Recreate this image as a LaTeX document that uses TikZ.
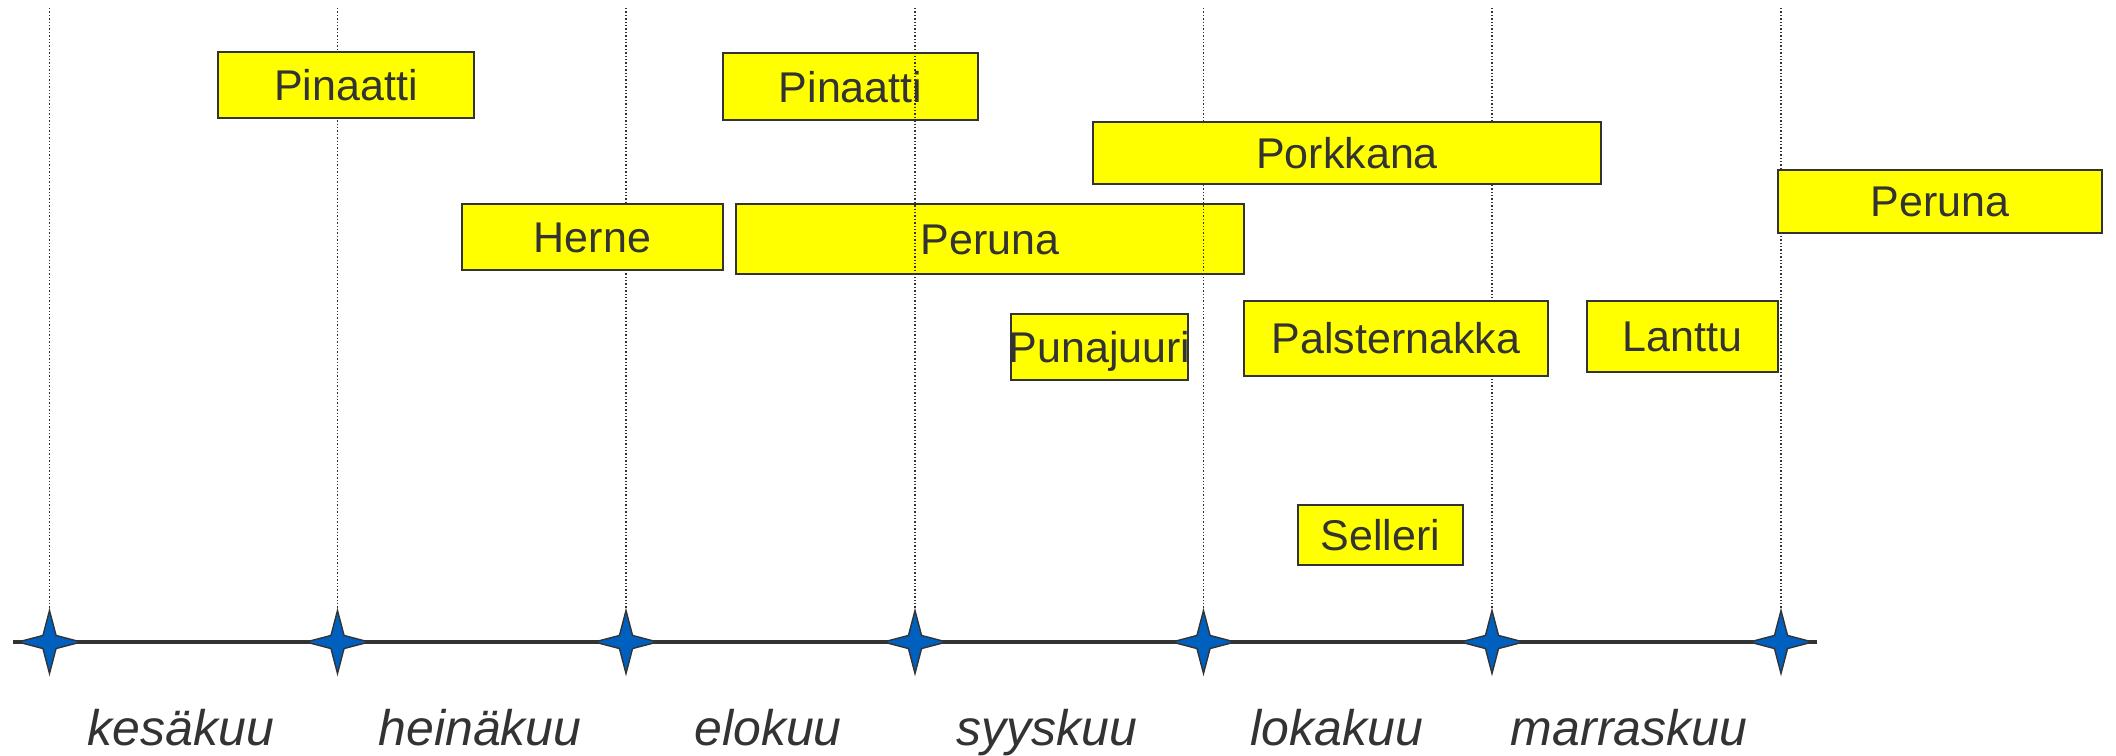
\documentclass[tikz,border=0pt]{standalone}
\usepackage{fontspec}
\setmainfont{Liberation Sans}
\usetikzlibrary{shapes.geometric}
\definecolor{ink}{RGB}{51,51,51}
\definecolor{starblue}{RGB}{0,96,192}
\definecolor{boxyellow}{RGB}{255,255,0}
\tikzset{
  cropbox/.style={draw=ink, line width=2bp, fill=boxyellow, rectangle, inner sep=0pt,
    text=ink, font=\fontsize{43bp}{50bp}\selectfont, text height=31bp, text depth=0pt},
  monthlabel/.style={anchor=base, inner sep=0pt, text=ink, font=\fontsize{50bp}{58bp}\selectfont\itshape},
  axisline/.style={draw=ink, line width=3.2bp},
  sparkle/.style={star, star points=4, star point ratio=3.4, minimum size=63bp, inner sep=0pt,
    draw=ink, line width=1.4bp, fill=starblue},
  gridline/.style={draw=ink, line width=1.6bp, dash pattern=on 1.4bp off 2bp}
}
\begin{document}
\begin{tikzpicture}[x=1bp,y=-1bp]
\useasboundingbox (0,0) rectangle (2116,756);
% axis
\coordinate (axL) at (13,642);
\coordinate (axR) at (1817,642);
\draw[axisline] (axL) -- (axR);
% boxes lying under the grid lines
\node[cropbox, minimum width=255bp, minimum height=66.5bp] (pin2) at (850.5,86.75) {Pinaatti};
\node[cropbox, minimum width=507.5bp, minimum height=70bp] (per1) at (990,239) {Peruna};
% stars and grid lines
\foreach \i/\x in {1/49.5,2/337.5,3/626,4/915,5/1203.5,6/1492,7/1781}{
  \node[sparkle] (s\i) at (\x,642) {};
  \coordinate (t\i) at (\x,8);
  \draw[gridline] (t\i) -- (s\i.north);
}
% other boxes
\node[cropbox, minimum width=256bp, minimum height=66bp] (pin1) at (346,85) {Pinaatti};
\node[cropbox, minimum width=508bp, minimum height=62bp] (pork) at (1347,153) {Porkkana};
\node[cropbox, minimum width=261bp, minimum height=66bp] (herne) at (592.5,237) {Herne};
\node[cropbox, minimum width=323.5bp, minimum height=63bp] (per2) at (1940,201) {Peruna};
\node[cropbox, minimum width=177bp, minimum height=66bp] (puna) at (1099.5,347) {\makebox[0pt]{Punajuuri}};
\node[cropbox, minimum width=304bp, minimum height=75bp] (pals) at (1396,338) {Palsternakka};
\node[cropbox, minimum width=191bp, minimum height=71bp] (lant) at (1682.5,336) {Lanttu};
\node[cropbox, minimum width=165bp, minimum height=60bp] (sell) at (1380.5,535) {Selleri};
% month labels
\node[monthlabel] (m1) at (181,745) {kesäkuu};
\node[monthlabel] (m2) at (480,745) {heinäkuu};
\node[monthlabel] (m3) at (768,745) {elokuu};
\node[monthlabel] (m4) at (1047,745) {syyskuu};
\node[monthlabel] (m5) at (1337,745) {lokakuu};
\node[monthlabel] (m6) at (1629,745) {marraskuu};
\end{tikzpicture}
\end{document}
